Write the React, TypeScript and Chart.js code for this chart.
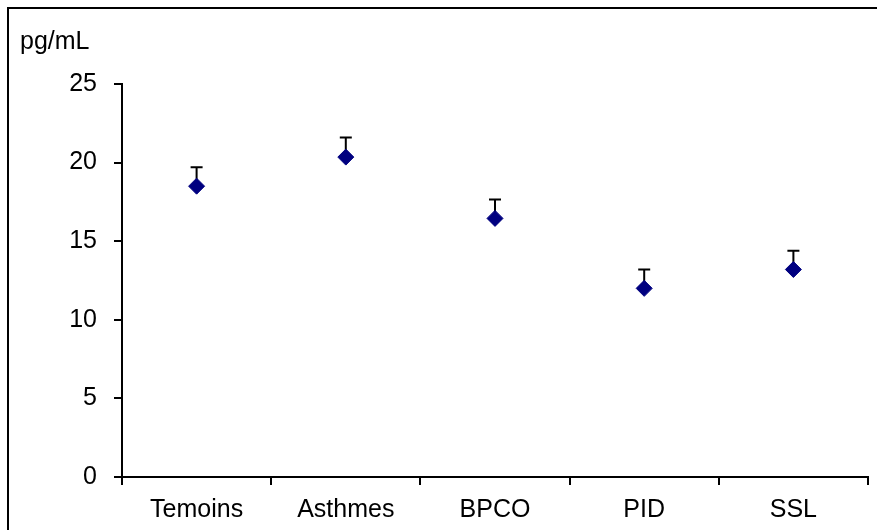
import React, { useEffect, useRef } from "react";
import { Chart, registerables } from "chart.js";
Chart.register(...registerables);

const categories = ["Temoins", "Asthmes", "BPCO", "PID", "SSL"];
const means = [18.5, 20.35, 16.45, 12.0, 13.2];
const errors = [1.2, 1.25, 1.2, 1.2, 1.2];
const yTicks = [0, 5, 10, 15, 20, 25];
const unitLabel = "pg/mL";

const FONT = "'Liberation Sans', Arial, sans-serif";

const framePlugin = {
  id: "frameAndUnit",
  afterDraw(chart: any) {
    const ctx = chart.ctx;
    ctx.save();
    ctx.strokeStyle = "#000";
    ctx.lineWidth = 2;
    ctx.beginPath();
    ctx.moveTo(8, 2000);
    ctx.lineTo(8, 8);
    ctx.lineTo(2000, 8);
    ctx.stroke();
    ctx.fillStyle = "#000";
    ctx.font = `25px ${FONT}`;
    ctx.textAlign = "left";
    ctx.textBaseline = "alphabetic";
    ctx.fillText(unitLabel, 20, 49);
    ctx.restore();
  },
};

const errorBarPlugin = {
  id: "errorBars",
  beforeDatasetsDraw(chart: any) {
    const ctx = chart.ctx;
    const xs = chart.scales.x;
    const ys = chart.scales.y;
    ctx.save();
    ctx.strokeStyle = "#000";
    ctx.lineWidth = 2;
    means.forEach((m, i) => {
      const x = xs.getPixelForValue(i);
      const y0 = ys.getPixelForValue(m);
      const y1 = ys.getPixelForValue(m + errors[i]);
      ctx.beginPath();
      ctx.moveTo(x, y0);
      ctx.lineTo(x, y1);
      ctx.moveTo(x - 6, y1);
      ctx.lineTo(x + 6, y1);
      ctx.stroke();
    });
    ctx.restore();
  },
};

export default function App() {
  const ref = useRef<HTMLCanvasElement>(null);
  useEffect(() => {
    if (!ref.current) return;
    const chart = new Chart(ref.current, {
      type: "line",
      data: {
        labels: categories,
        datasets: [
          {
            data: means,
            showLine: false,
            pointStyle: "rectRot",
            pointRadius: 8,
            pointBackgroundColor: "#000080",
            pointBorderColor: "#000080",
            pointBorderWidth: 1,
          },
        ],
      },
      options: {
        animation: false,
        responsive: false,
        events: [],
        layout: { padding: { top: 84, right: 5, left: 0, bottom: 0 } },
        plugins: {
          legend: { display: false },
          tooltip: { enabled: false },
          title: { display: false },
        },
        scales: {
          x: {
            type: "category",
            offset: true,
            grid: {
              offset: true,
              drawOnChartArea: false,
              drawTicks: true,
              tickLength: 8,
              color: "#000",
              lineWidth: 2,
            },
            border: { color: "#000", width: 2 },
            ticks: {
              color: "#000",
              font: { family: FONT, size: 25 },
              padding: 10,
              maxRotation: 0,
            },
            afterFit(s: any) {
              s.height = 53;
            },
          },
          y: {
            min: 0,
            max: 25,
            grid: {
              drawOnChartArea: false,
              drawTicks: true,
              tickLength: 8,
              color: "#000",
              lineWidth: 2,
            },
            border: { color: "#000", width: 2 },
            ticks: {
              color: "#000",
              font: { family: FONT, size: 25 },
              padding: 17,
            },
            afterBuildTicks(s: any) {
              s.ticks = yTicks.map((v) => ({ value: v }));
            },
            afterFit(s: any) {
              s.width = 122;
            },
          },
        },
      },
      plugins: [errorBarPlugin, framePlugin],
    } as any);
    return () => chart.destroy();
  }, []);
  return (
    <div style={{ position: "absolute", left: 0, top: 0, width: 877, height: 530, background: "#fff" }}>
      <canvas ref={ref} width={877} height={530} />
    </div>
  );
}
